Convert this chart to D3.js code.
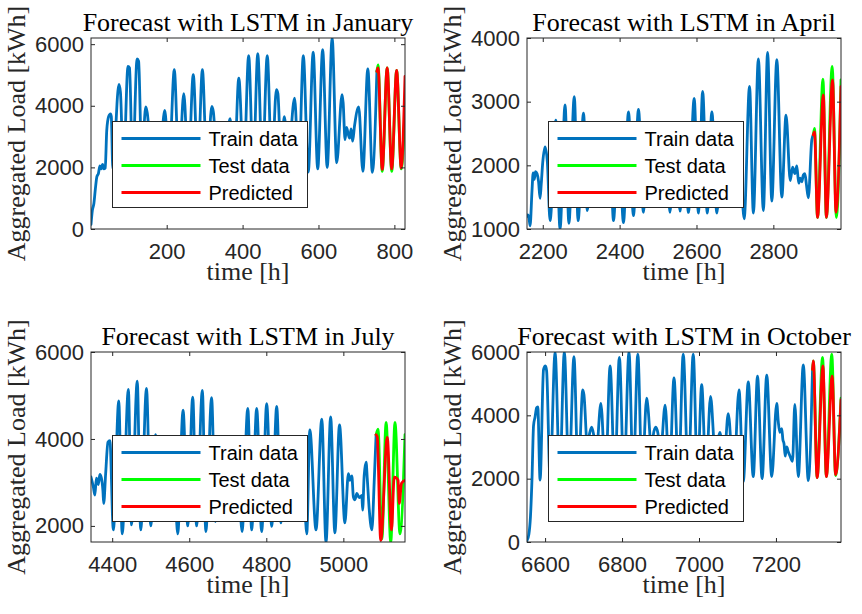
<!DOCTYPE html>
<html>
<head>
<meta charset="utf-8">
<script src="https://cdn.jsdelivr.net/npm/d3@7"></script>
<style>
  body { margin: 0; background: #fff; }
  svg { display: block; }
</style>
</head>
<body>
<svg id="chart" width="862" height="614"></svg>
<script>
// Hourly aggregated load [kWh]: [hour, load] pairs at the daily peaks and troughs.

// January
const janTrain = [[0.5,150],[4,600],[8,820],[12,1300],[16,1700],[20,1800],[24,2050],[27,1950],[31,2100],[34,1950],[38,1980],[42,3200],[47,3650],[52,3740],[54,3650],[58,1950],[74,4690],[78,4450],[86,1950],[98,5280],[102,5230],[110,1950],[122,5520],[126,5450],[134,2300],[145,3960],[149,3750],[158,2600],[170,3400],[182,2500],[195,3850],[206,1950],[220,5170],[232,1950],[245,4390],[257,1950],[270,5010],[282,1950],[294,5170],[306,2000],[319,3980],[323,3800],[331,2600],[343,3400],[355,2500],[367,3580],[378,1950],[390,4900],[403,1950],[416,5630],[428,1950],[440,5690],[452,1950],[465,5630],[477,1950],[489,4520],[493,4400],[501,2400],[510,3650],[520,2300],[537,4250],[548,1900],[560,5630],[573,1850],[586,5740],[598,1950],[611,5820],[623,2000],[636,6200],[648,2150],[662,4360],[665,4100],[670,2900],[674,3300],[678,3100],[682,2950],[686,3250],[690,2850],[695,3350],[706,3960],[717,1870],[730,5195],[742,1840],[754,5120]];
const janTest = [[754,5120],[757,5330],[768,1870],[781,5230],[793,1870],[806,5150],[818,1950],[828,3900]];
const janPred = [[754,5120],[757,5230],[768,1930],[781,5230],[793,1950],[806,5150],[818,1980],[828,4955]];

// April
const aprTrain = [[2159,1200],[2161,1220],[2164,1180],[2167,1050],[2172,1600],[2175,1880],[2178,1780],[2181,1900],[2185,1870],[2189,1750],[2193,1480],[2196,1700],[2200,2050],[2206,2290],[2212,2050],[2219,1130],[2234,2710],[2245,1000],[2258,2950],[2268,1090],[2282,3080],[2292,1130],[2306,2820],[2316,1290],[2329,2300],[2340,1550],[2352,2400],[2363,1500],[2375,2300],[2384,1130],[2397,2600],[2410,1100],[2423,2840],[2436,1210],[2449,2880],[2462,1260],[2474,2450],[2486,1450],[2498,2350],[2509,1450],[2520,2300],[2531,1260],[2544,2500],[2557,1280],[2568,2600],[2579,1260],[2594,3050],[2605,1250],[2616,3160],[2628,1250],[2640,2840],[2653,1250],[2665,2300],[2677,1500],[2689,2300],[2700,1500],[2712,2200],[2724,1160],[2738,3240],[2748,1250],[2761,3670],[2774,1290],[2785,3775],[2796,1440],[2809,3660],[2822,1500],[2833,2790],[2844,1760],[2850,1970],[2856,1870],[2861,1990],[2866,1720],[2870,1800],[2874,1740],[2878,1850],[2882,1870],[2886,1700],[2891,1490],[2900,2400],[2904,2480]];
const aprTest = [[2904,2480],[2907,2580],[2915,1180],[2929,3354],[2938,1180],[2953,3553],[2964,1180],[2976,3343]];
const aprPred = [[2904,2480],[2907,2527],[2915,1183],[2930,3106],[2938,1183],[2954,3343],[2963,1262],[2976,3237]];

// July
const julTrain = [[4345,3124],[4351,2900],[4355,2707],[4359,3100],[4364,2950],[4368,3186],[4372,3100],[4376,2800],[4378,2517],[4383,3200],[4389,3923],[4394,3960],[4403,1909],[4417,4873],[4426,1818],[4442,5140],[4450,2023],[4465,5329],[4474,1909],[4489,5163],[4500,2000],[4513,4098],[4524,2500],[4537,3300],[4548,2400],[4560,3400],[4570,1818],[4584,4660],[4596,2000],[4609,4964],[4619,2000],[4634,5117],[4643,1870],[4658,4948],[4668,2100],[4680,3500],[4692,2400],[4704,3300],[4715,2300],[4726,3400],[4737,1870],[4752,4705],[4762,1909],[4775,4705],[4788,1870],[4801,4811],[4814,1990],[4827,4750],[4838,2070],[4850,3500],[4862,2400],[4873,3300],[4884,2300],[4895,3400],[4905,1818],[4913,4211],[4929,1909],[4944,4456],[4955,1620],[4967,4508],[4978,1840],[4990,4326],[5004,2070],[5013,3200],[5017,3050],[5022,3150],[5026,2668],[5030,2600],[5035,2750],[5041,2650],[5048,2700],[5050,2365],[5054,3150],[5059,3466],[5062,3100],[5067,2400],[5074,1909],[5080,3000],[5085,4098]];
const julTest = [[5085,4098],[5090,4226],[5100,1700],[5111,4378],[5123,1620],[5134,4378],[5147,1818],[5160,4100]];
const julPred = [[5085,4098],[5088,4050],[5097,1665],[5114,4036],[5125,1909],[5132,3124],[5138,3100],[5142,3050],[5145,2517],[5151,2980],[5160,3050]];

// October
const octTrain = [[6553,45],[6558,250],[6562,800],[6566,2000],[6570,3678],[6574,3950],[6578,4239],[6581,4270],[6587,1958],[6596,5452],[6601,5560],[6604,5400],[6613,2000],[6626,5990],[6638,2000],[6650,6000],[6662,2000],[6675,5850],[6686,2000],[6698,4807],[6701,4650],[6710,3000],[6716,3450],[6721,3626],[6726,3400],[6733,2800],[6745,4378],[6757,2000],[6769,5560],[6781,2000],[6793,5830],[6805,2000],[6818,6000],[6829,2000],[6841,5936],[6852,2000],[6864,4540],[6867,4300],[6876,3000],[6883,3500],[6888,3626],[6893,3450],[6900,2800],[6912,4323],[6923,2000],[6935,5185],[6947,2000],[6959,5936],[6972,2000],[6985,5936],[6996,2000],[7007,4969],[7018,2100],[7030,4594],[7042,2800],[7054,3465],[7065,2600],[7076,4055],[7090,2000],[7104,4807],[7115,1904],[7128,5055],[7141,2065],[7152,5239],[7164,2000],[7176,5270],[7189,2065],[7202,4378],[7206,3800],[7210,3465],[7215,3580],[7218,3230],[7221,3100],[7224,2710],[7228,3000],[7232,2850],[7237,2700],[7243,2549],[7249,4345],[7258,2065],[7271,5594],[7284,1936],[7295,5452]];
const octTest = [[7295,5452],[7297,5720],[7307,2033],[7321,5830],[7331,2065],[7345,5936],[7355,2100],[7369,4540]];
const octPred = [[7295,5452],[7297,5722],[7307,2033],[7322,5560],[7331,2065],[7346,5239],[7355,2130],[7369,4484]];

// Tick values
const janXTicks = [200, 400, 600, 800];
const janYTicks = [0, 2000, 4000, 6000];
const aprXTicks = [2200, 2400, 2600, 2800];
const aprYTicks = [1000, 2000, 3000, 4000];
const julXTicks = [4400, 4600, 4800, 5000];
const julYTicks = [2000, 4000, 6000];
const octXTicks = [6600, 6800, 7000, 7200];
const octYTicks = [0, 2000, 4000, 6000];

const seriesNames = ["Train data", "Test data", "Predicted"];
const seriesColors = ["#0072BD", "#00FF00", "#FF0000"];

const panels = [
  { title: "Forecast with LSTM in January", series: [janTrain, janTest, janPred],
    xDomain: [0.5, 828], yDomain: [0, 6200], xTicks: janXTicks, yTicks: janYTicks,
    left: 91, top: 38, width: 314, height: 191 },
  { title: "Forecast with LSTM in April", series: [aprTrain, aprTest, aprPred],
    xDomain: [2159, 2976], yDomain: [1000, 4000], xTicks: aprXTicks, yTicks: aprYTicks,
    left: 527, top: 38, width: 314, height: 191 },
  { title: "Forecast with LSTM in July", series: [julTrain, julTest, julPred],
    xDomain: [4345, 5160], yDomain: [1630, 6000], xTicks: julXTicks, yTicks: julYTicks,
    left: 91, top: 352, width: 314, height: 190 },
  { title: "Forecast with LSTM in October", series: [octTrain, octTest, octPred],
    xDomain: [6553, 7369], yDomain: [0, 6000], xTicks: octXTicks, yTicks: octYTicks,
    left: 527, top: 352, width: 314, height: 190 }
];

const axisColor = "#262626";
const sansFont = "'Liberation Sans', Arial, Helvetica, sans-serif";
const serifFont = "'Liberation Serif', 'Times New Roman', serif";

const svg = d3.select("#chart");
const defs = svg.append("defs");

panels.forEach((p, i) => {
  const x = d3.scaleLinear().domain(p.xDomain).range([0, p.width]);
  const y = d3.scaleLinear().domain(p.yDomain).range([p.height, 0]);
  const g = svg.append("g").attr("transform", `translate(${p.left},${p.top})`);

  defs.append("clipPath").attr("id", "plot-clip-" + i)
    .append("rect").attr("width", p.width).attr("height", p.height);

  const line = d3.line()
    .x(d => x(d[0]))
    .y(d => y(d[1]))
    .curve(d3.curveMonotoneX);

  const plot = g.append("g").attr("clip-path", `url(#plot-clip-${i})`);
  p.series.forEach((data, k) => {
    plot.append("path")
      .datum(data)
      .attr("d", line)
      .attr("fill", "none")
      .attr("stroke", seriesColors[k])
      .attr("stroke-width", 2.8)
      .attr("stroke-linejoin", "round")
      .attr("stroke-linecap", "round");
  });

  const fmt = d3.format("d");
  const styleAxis = sel => {
    sel.select(".domain").remove();
    sel.selectAll(".tick line").attr("stroke", axisColor).attr("stroke-width", 1);
    sel.selectAll(".tick text")
      .attr("fill", axisColor)
      .style("font-family", sansFont)
      .style("font-size", "22px");
  };

  g.append("g").attr("transform", `translate(0,${p.height})`)
    .call(d3.axisBottom(x).tickValues(p.xTicks).tickFormat(fmt).tickSize(-4).tickPadding(14))
    .call(styleAxis);
  g.append("g")
    .call(d3.axisTop(x).tickValues(p.xTicks).tickFormat("").tickSize(-4))
    .call(styleAxis);
  g.append("g")
    .call(d3.axisLeft(y).tickValues(p.yTicks).tickFormat(fmt).tickSize(-4).tickPadding(7))
    .call(styleAxis);
  g.append("g").attr("transform", `translate(${p.width},0)`)
    .call(d3.axisRight(y).tickValues(p.yTicks).tickFormat("").tickSize(-4))
    .call(styleAxis);

  // axes box
  g.append("rect")
    .attr("width", p.width).attr("height", p.height)
    .attr("fill", "none").attr("stroke", axisColor).attr("stroke-width", 1);

  // title and axis labels
  g.append("text")
    .attr("x", p.width / 2).attr("y", -7)
    .attr("text-anchor", "middle")
    .style("font-family", serifFont).style("font-size", "26px")
    .attr("fill", "#000")
    .text(p.title);

  g.append("text")
    .attr("x", p.width / 2).attr("y", p.height + 51)
    .attr("text-anchor", "middle")
    .style("font-family", serifFont).style("font-size", "26px")
    .attr("fill", axisColor)
    .text("time [h]");

  g.append("text")
    .attr("transform", `translate(-66,${p.height / 2}) rotate(-90)`)
    .attr("text-anchor", "middle")
    .style("font-family", serifFont).style("font-size", "26px")
    .attr("fill", axisColor)
    .text("Aggregated Load [kWh]");

  // legend
  const lg = g.append("g").attr("transform", "translate(21.5,83.5)");
  lg.append("rect")
    .attr("width", 195).attr("height", 86)
    .attr("fill", "#fff").attr("stroke", axisColor).attr("stroke-width", 1);
  seriesNames.forEach((name, k) => {
    const cy = 17 + k * 27;
    lg.append("line")
      .attr("x1", 9).attr("x2", 88).attr("y1", cy).attr("y2", cy)
      .attr("stroke", seriesColors[k]).attr("stroke-width", 2.8);
    lg.append("text")
      .attr("x", 96).attr("y", cy).attr("dy", "0.35em")
      .style("font-family", sansFont).style("font-size", "20px")
      .attr("fill", "#000")
      .text(name);
  });
});
</script>
</body>
</html>
